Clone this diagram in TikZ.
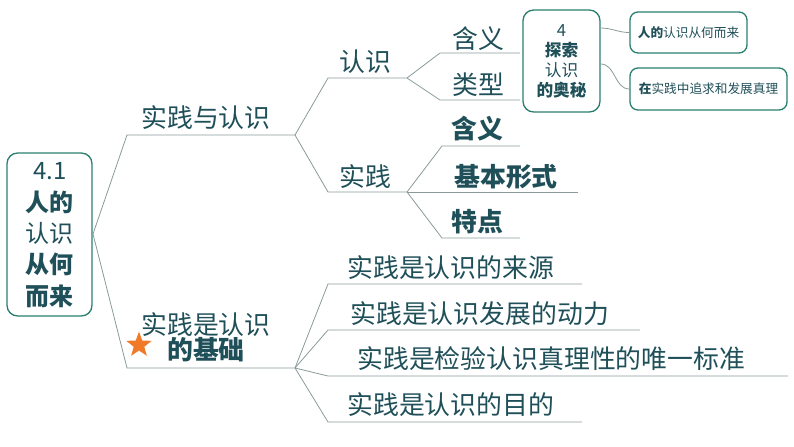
\documentclass[tikz,border=0pt]{standalone}
\usepackage{fontspec}
\setmainfont{Noto Sans CJK SC}
\usetikzlibrary{shapes.geometric}
\definecolor{txt}{HTML}{1F4F58}
\definecolor{bd}{HTML}{2A7F6F}
\definecolor{ln}{HTML}{8A9A9A}
\definecolor{starc}{HTML}{F07A28}
\tikzset{
 lab/.style={text=txt,font=\fontsize{19.4}{21}\selectfont,inner sep=0pt},
 blab/.style={lab,font=\fontsize{19.4}{21}\selectfont\bfseries},
 ln/.style={draw=ln,line width=0.6pt},
 bx/.style={draw=bd,line width=1pt,rounded corners=8pt},
}
\begin{document}
\begin{tikzpicture}[x=0.75pt,y=-0.75pt]
\useasboundingbox (0,0) rectangle (794,447);
% root
\draw[bx] (7,153) rectangle (92,316);
\node[text=txt,align=center,inner sep=0pt,font=\fontsize{18}{23.5}\selectfont] (root) at (50,235)
 {4.1\\\textbf{人的}\\认识\\\textbf{从何}\\\textbf{而来}};
\coordinate (r) at (93,234);
% branch 1
\coordinate (a1) at (127,135); \coordinate (a2) at (295,135);
\node[lab] (sy) at (206,118) {实践与认识};
\draw[ln] (r) -- (a1) -- (a2);
\coordinate (b1) at (328,78); \coordinate (b2) at (407,78);
\coordinate (c1) at (328,192); \coordinate (c2) at (407,192);
\node[lab] (rs) at (365,62) {认识};
\node[lab] (sj) at (365,177) {实践};
\draw[ln] (a2) -- (b1) -- (b2);
\draw[ln] (a2) -- (c1) -- (c2);
\coordinate (d1) at (440,53); \coordinate (d2) at (520,53);
\coordinate (e1) at (440,100); \coordinate (e2) at (520,100);
\node[lab] (hy1) at (478,39) {含义};
\node[lab] (lx) at (478,85) {类型};
\draw[ln] (b2) -- (d1) -- (d2);
\draw[ln] (b2) -- (e1) -- (e2);
\coordinate (f1) at (442,146); \coordinate (f2) at (520,146);
\coordinate (g2) at (578,192);
\coordinate (h1) at (442,238); \coordinate (h2) at (520,238);
\node[blab] (hy2) at (477,129) {含义};
\node[blab] (jb) at (506,177) {基本形式};
\node[blab] (td) at (477,222) {特点};
\draw[ln] (c2) -- (f1) -- (f2);
\draw[ln] (c2) -- (g2);
\draw[ln] (c2) -- (h1) -- (h2);
% branch 2
\coordinate (k1) at (127,368); \coordinate (k2) at (295,368);
\draw[ln] (r) -- (k1) -- (k2);
\node[lab,align=center] (jc) at (206,337) {实践是认识\\[-2pt]\textbf{的基础}};
\node[star,star points=5,star point ratio=2.4,fill=starc,minimum size=20pt,inner sep=0pt] (st) at (139,345) {};
\foreach \y/\e/\n in {284/582/p1,330/640/p2,376/788/p3,422/582/p4}{
 \coordinate (\n a) at (328,\y); \coordinate (\n b) at (\e,\y);
 \draw[ln] (k2) -- (\n a) -- (\n b);}
\node[lab,anchor=west] (t1) at (347,268) {实践是认识的来源};
\node[lab,anchor=west] (t2) at (350,314) {实践是认识发展的动力};
\node[lab,anchor=west] (t3) at (357,359) {实践是检验认识真理性的唯一标准};
\node[lab,anchor=west] (t4) at (347,405) {实践是认识的目的};
% right boxes
\node[bx,minimum width=57.75pt,minimum height=76.5pt,inner sep=0pt,text=txt,align=center,font=\fontsize{12.5}{15}\selectfont] (mb) at (561.5,61) {4\\\textbf{探索}\\认识\\\textbf{的奥秘}};
\node[bx,rounded corners=6pt,minimum width=87.75pt,minimum height=30.75pt,inner sep=0pt,text=txt,font=\fontsize{9.5}{11}\selectfont] (q1) at (688.5,32.5) {\textbf{人的}认识从何而来};
\node[bx,rounded corners=6pt,minimum width=117.75pt,minimum height=31.5pt,inner sep=0pt,text=txt,font=\fontsize{9.5}{11}\selectfont] (q2) at (708.5,89) {\textbf{在}实践中追求和发展真理};
\coordinate (m1) at ([yshift=-14pt]mb.north east);
\coordinate (m2) at ([yshift=-41pt]mb.north east);
\draw[ln] (m1) to[out=0,in=180] (q1.west);
\draw[ln] (m2) to[out=0,in=180] (q2.west);
\end{tikzpicture}
\end{document}
